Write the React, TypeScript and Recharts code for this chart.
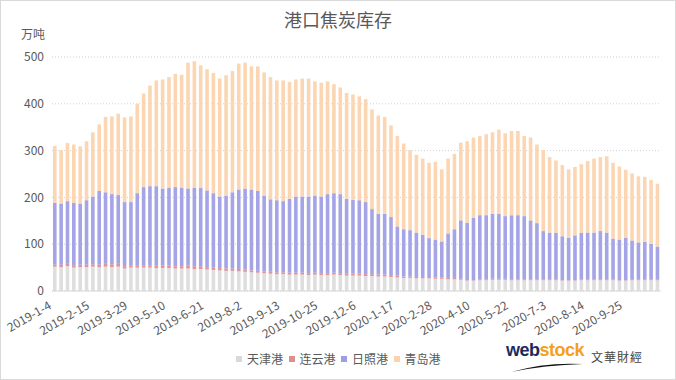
import React from 'react';
import { BarChart, Bar, XAxis, YAxis, CartesianGrid } from 'recharts';

const categories = [
  '2019-1-4','2019-1-11','2019-1-18','2019-1-25','2019-2-1','2019-2-8','2019-2-15','2019-2-22','2019-3-1','2019-3-8','2019-3-15','2019-3-22',
  '2019-3-29','2019-4-5','2019-4-12','2019-4-19','2019-4-26','2019-5-3','2019-5-10','2019-5-17','2019-5-24','2019-5-31','2019-6-7','2019-6-14',
  '2019-6-21','2019-6-28','2019-7-5','2019-7-12','2019-7-19','2019-7-26','2019-8-2','2019-8-9','2019-8-16','2019-8-23','2019-8-30','2019-9-6',
  '2019-9-13','2019-9-20','2019-9-27','2019-10-4','2019-10-11','2019-10-18','2019-10-25','2019-11-1','2019-11-8','2019-11-15','2019-11-22','2019-11-29',
  '2019-12-6','2019-12-13','2019-12-20','2019-12-27','2020-1-3','2020-1-10','2020-1-17','2020-1-24','2020-1-31','2020-2-7','2020-2-14','2020-2-21',
  '2020-2-28','2020-3-6','2020-3-13','2020-3-20','2020-3-27','2020-4-3','2020-4-10','2020-4-17','2020-4-24','2020-5-1','2020-5-8','2020-5-15',
  '2020-5-22','2020-5-29','2020-6-5','2020-6-12','2020-6-19','2020-6-26','2020-7-3','2020-7-10','2020-7-17','2020-7-24','2020-7-31','2020-8-7',
  '2020-8-14','2020-8-21','2020-8-28','2020-9-4','2020-9-11','2020-9-18','2020-9-25','2020-10-2','2020-10-9','2020-10-16','2020-10-23','2020-10-30',
];

const tianjin = [
  52,51,53,50,51,51,52,51,52,51,52,48,
  50,50,50,50,49,49,49,48,48,48,47,47,
  46,45,44,43,43,42,41,40,39,38,37,36,
  36,35,35,35,34,35,34,34,35,34,33,33,
  33,32,32,31,31,30,29,28,28,27,27,27,
  26,26,25,25,24,22,22,23,23,24,24,24,
  23,23,23,23,23,23,23,23,22,22,22,23,
  23,23,23,23,23,22,22,23,23,23,23,23,
];

const lianyun = [
  5,5,5,5,5,5,5,5,6,6,6,5,
  5,5,5,5,5,5,5,5,5,6,6,6,
  5,5,5,5,5,5,5,4,4,4,4,4,
  4,4,4,4,4,4,4,4,4,4,4,4,
  4,4,4,4,4,4,4,3,3,3,3,3,
  3,3,3,3,2,1,1,2,2,2,2,2,
  2,2,2,1,1,1,1,1,1,1,1,1,
  1,1,1,1,1,1,1,1,1,1,1,1,
];

const rizhao = [
  131,131,134,133,131,138,145,158,153,150,147,137,
  135,154,167,169,170,165,167,169,168,165,168,167,
  164,159,153,156,163,170,173,173,171,162,155,154,
  152,158,163,163,164,165,164,169,170,169,160,158,
  157,154,139,130,130,124,105,101,99,95,90,83,
  81,77,95,104,125,123,133,137,137,139,139,134,
  137,137,135,127,121,104,101,100,94,91,96,100,
  101,101,104,101,88,87,91,84,80,81,77,71,
];

const qingdao = [
  122,114,124,125,122,126,137,142,161,166,174,181,
  183,191,200,215,226,233,236,242,241,269,270,262,
  259,257,252,257,259,269,269,263,266,263,261,256,
  258,250,250,252,252,244,243,241,233,228,226,225,
  222,220,213,210,207,196,193,183,171,166,163,161,
  166,154,160,161,166,174,172,169,173,174,180,177,
  180,180,171,177,168,173,161,155,152,146,146,147,
  153,158,158,163,162,156,145,143,141,139,136,134,
];

const yTicks = [0, 100, 200, 300, 400, 500];

const seriesNames = ['天津港', '连云港', '日照港', '青岛港'];
const seriesColors = ['#dedede', '#e29393', '#a4a4e6', '#fcd6b2'];
const legendColors = ['#d9d9d9', '#df8e8e', '#9d9de8', '#fbd4af'];

const data = categories.map((d, i) => ({
  date: d,
  天津港: tianjin[i],
  连云港: lianyun[i],
  日照港: rizhao[i],
  青岛港: qingdao[i],
}));

const FONT = '"Noto Sans CJK SC", "Noto Sans", sans-serif';

const XTick = (props: any) => {
  const { x, y, payload } = props;
  return (
    <text
      x={x - 3}
      y={y + 9}
      textAnchor="end"
      fill="#595959"
      fontSize={12}
      fontFamily={FONT}
      transform={`rotate(-30, ${x - 3}, ${y + 9})`}
    >
      {payload.value}
    </text>
  );
};

export default function App() {
  return (
    <div style={{ position: 'absolute', left: 0, top: 0, width: 676, height: 380, background: '#fff', fontFamily: FONT }}>
      <div style={{ position: 'absolute', left: 0, top: 0, width: 674, height: 378, border: '1px solid #d9d9d9' }} />
      <div style={{ position: 'absolute', left: 0, width: 676, top: 6, textAlign: 'center', fontSize: 18, color: '#595959' }}>
        港口焦炭库存
      </div>
      <div style={{ position: 'absolute', left: 21, top: 25, fontSize: 12, color: '#595959' }}>万吨</div>
      <div style={{ position: 'absolute', left: 0, top: 0 }}>
        <BarChart
          width={676}
          height={380}
          data={data}
          margin={{ top: 57, right: 15, bottom: 29, left: 7 }}
          barSize={3.6}
        >
          <CartesianGrid vertical={false} stroke="#d0d0d0" strokeDasharray="1 2" />
          <XAxis
            dataKey="date"
            interval={5}
            tickLine={false}
            axisLine={{ stroke: '#d9d9d9' }}
            height={60}
            tick={<XTick />}
          />
          <YAxis
            domain={[0, 500]}
            ticks={yTicks}
            axisLine={false}
            tickLine={false}
            width={45}
            tick={{ fill: '#595959', fontSize: 12, fontFamily: FONT }}
          />
          {seriesNames.map((n, i) => (
            <Bar key={n} dataKey={n} stackId="a" fill={seriesColors[i]} isAnimationActive={false} />
          ))}
        </BarChart>
      </div>
      {seriesNames.map((n, i) => (
        <div key={n} style={{ position: 'absolute', left: 236 + i * 52.5, top: 350, display: 'flex', alignItems: 'center', fontSize: 12, color: '#595959' }}>
          <span style={{ display: 'inline-block', width: 6, height: 6, background: legendColors[i], marginRight: 5 }} />
          <span>{n}</span>
        </div>
      ))}
      <div style={{ position: 'absolute', left: 506, top: 340, fontFamily: '"Liberation Sans", Arial, sans-serif', fontWeight: 'bold', fontSize: 18, letterSpacing: -0.5, lineHeight: '20px' }}>
        <span style={{ color: '#1c2b5c' }}>web</span>
        <span style={{ color: '#f5a01a' }}>stock</span>
      </div>
      <svg style={{ position: 'absolute', left: 505, top: 360 }} width={80} height={14}>
        <path d="M 6 12 Q 40 2 78 4 Q 40 5 6 12 Z" fill="#111" />
      </svg>
      <div style={{ position: 'absolute', left: 591, top: 348, fontSize: 12, color: '#444', letterSpacing: 1 }}>文華財經</div>
    </div>
  );
}
